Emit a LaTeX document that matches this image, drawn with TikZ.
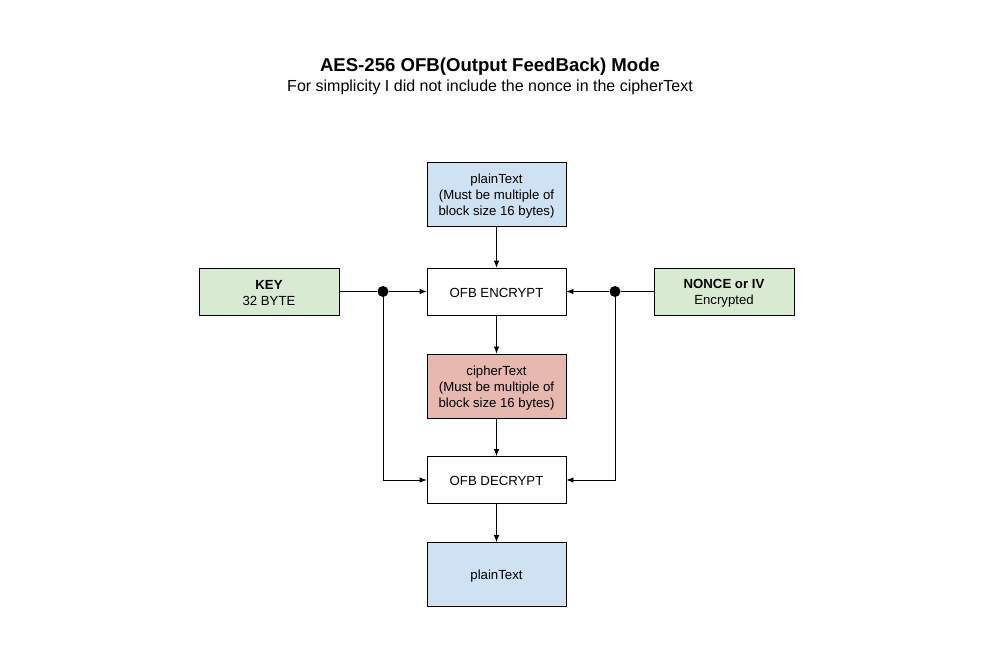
\documentclass[tikz,border=0pt]{standalone}
\usepackage{fontspec}
\setmainfont{Liberation Sans}
\usetikzlibrary{arrows.meta}
\definecolor{bluefill}{HTML}{CFE2F3}
\definecolor{greenfill}{HTML}{D9EAD3}
\definecolor{redfill}{HTML}{E6B8AF}
\begin{document}
\begin{tikzpicture}[x=1pt,y=-1pt,
  box/.style={draw=black, line width=0.8pt, minimum width=139pt, inner sep=0pt},
  tall/.style={box, minimum height=64pt},
  short/.style={box, minimum height=47pt},
  txt/.style={align=center, inner sep=0pt, font=\fontsize{13.2}{16}\selectfont},
  conn/.style={line width=0.8pt, -{Latex[length=7pt,width=5.5pt]}},
  junction/.style={circle, fill=black, inner sep=0pt, minimum size=11pt}]
\useasboundingbox (0,0) rectangle (986,651);
\node[font=\fontsize{18.6}{20}\bfseries] (title) at (490,67) {AES-256 OFB(Output FeedBack) Mode};
\node[font=\fontsize{16}{18}\selectfont] (sub) at (490,87.5) {For simplicity I did not include the nonce in the cipherText};

\node[tall, fill=bluefill] (pt1) at (496.5,194) {};
\node[short, fill=white] (enc) at (496.5,291.5) {};
\node[tall, fill=redfill] (ct) at (496.5,386) {};
\node[short, fill=white] (dec) at (496.5,480) {};
\node[tall, fill=bluefill] (pt2) at (496.5,574.5) {};
\node[short, fill=greenfill, minimum width=140pt] (key) at (269,291.5) {};
\node[short, fill=greenfill, minimum width=140pt] (iv) at (724,291.5) {};

\node[txt] (pt1t) at ([yshift=-2.5pt]pt1.center) {plainText\\(Must be multiple of\\block size 16 bytes)};
\node[txt] (enct) at ([yshift=-1pt]enc.center) {OFB ENCRYPT};
\node[txt] (ctt) at ([yshift=-2.5pt]ct.center) {cipherText\\(Must be multiple of\\block size 16 bytes)};
\node[txt] (dect) at ([yshift=-1pt]dec.center) {OFB DECRYPT};
\node[txt] (pt2t) at ([yshift=-2pt]pt2.center) {plainText};
\node[txt] (keyt) at ([yshift=-2pt]key.center) {\textbf{KEY}\\32 BYTE};
\node[txt] (ivt) at ([yshift=-2pt]iv.center) {\textbf{NONCE or IV}\\Encrypted};

\node[junction] (j1) at (383,291.5) {};
\node[junction] (j2) at (615,291.5) {};

\draw[conn] (pt1) -- (enc);
\draw[conn] (enc) -- (ct);
\draw[conn] (ct) -- (dec);
\draw[conn] (dec) -- (pt2);
\draw[line width=0.8pt] (key) -- (j1);
\draw[conn] (j1) -- (enc);
\draw[line width=0.8pt] (iv) -- (j2);
\draw[conn] (j2) -- (enc);
\draw[conn] (j1.center) |- (dec);
\draw[conn] (j2.center) |- (dec);
\end{tikzpicture}
\end{document}
